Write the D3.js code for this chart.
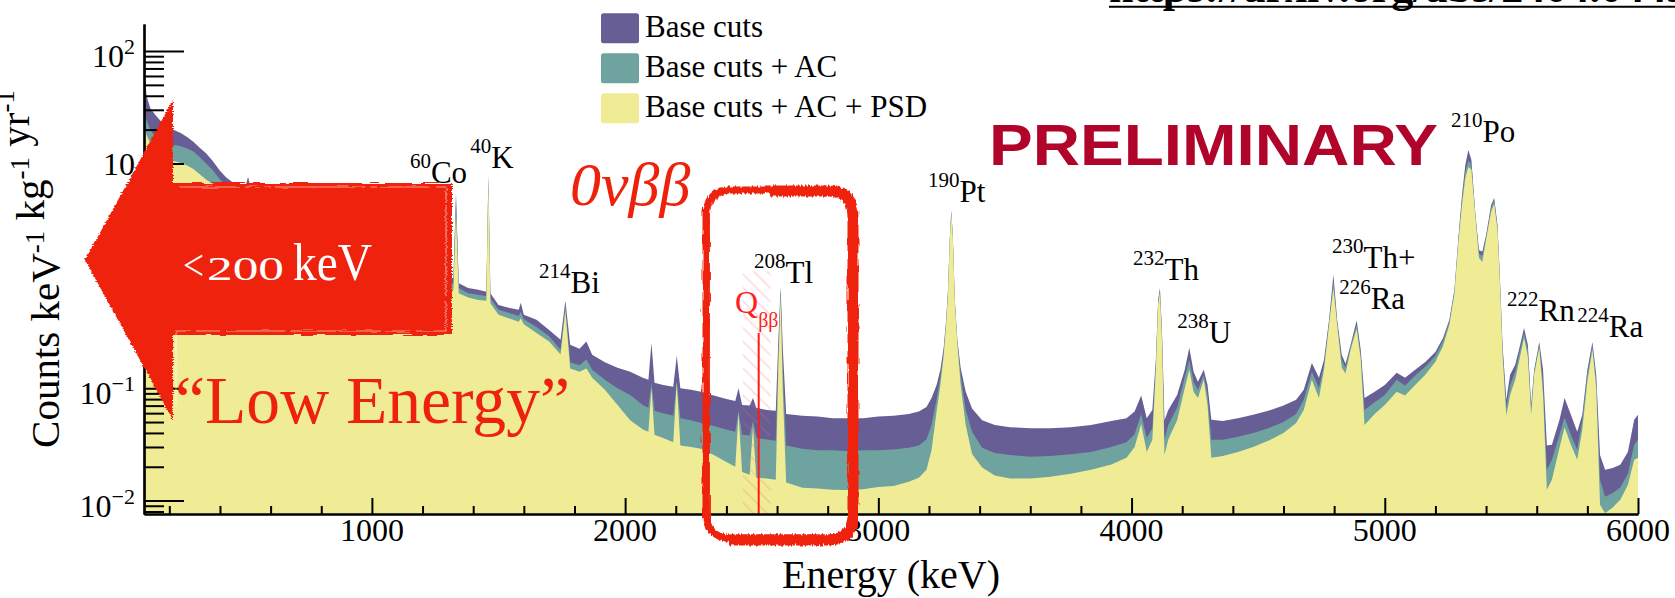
<!DOCTYPE html>
<html>
<head>
<meta charset="utf-8">
<script src="https://cdn.jsdelivr.net/npm/d3@7"></script>
<style>
  html, body { margin: 0; padding: 0; background: #ffffff; }
  svg { display: block; }
</style>
</head>
<body>
<svg id="chart" width="1675" height="598"></svg>
<script>
// ---- Spectrum knots: energy (keV) and rate (counts / keV / kg / yr) ----
const energy = [
  100,110,125,145,165,185,205,225,245,270,295,320,345,370,400,425,450,480,500,511,522,560,600,650,700,750,800,850,900,911,922,969,1000,1050,1100,1160,1173,1186,1250,1300,1322,1332,1343,1380,1420,1452,1460,1468,1500,1540,1580,1588,1600,1650,1700,1745,1764,1783,1820,1847,1870,1920,1970,2020,2070,2092,2104,2116,2150,2190,2204,2218,2260,2300,2350,2400,2435,2448,2462,2492,2505,2518,2560,2595,2606,2614,2623,2636,2700,2760,2820,2880,2940,3000,3060,3120,3160,3190,3210,3230,3245,3258,3268,3275,3282,3288,3294,3302,3312,3325,3345,3370,3410,3460,3520,3600,3680,3760,3840,3920,3980,4012,4038,4060,4082,4096,4105,4112,4120,4130,4145,4180,4210,4228,4245,4262,4285,4300,4315,4360,4420,4480,4540,4600,4650,4680,4712,4740,4760,4780,4797,4812,4830,4845,4865,4889,4905,4920,4960,5000,5047,5080,5120,5160,5200,5230,5255,5275,5290,5305,5318,5330,5342,5358,5372,5385,5400,5420,5432,5445,5455,5465,5480,5495,5515,5530,5550,5565,5578,5590,5610,5625,5640,5660,5690,5710,5735,5760,5780,5800,5820,5835,5850,5870,5900,5930,5960,5985,6000
];
const baseCuts = [
  75,40,31,27,24,22,20.5,19.5,18.7,17.2,15.6,13.8,12.3,10.6,8.6,7.5,6.8,6.3,6.1,7.6,5.9,5.5,5.1,4.6,4.1,3.7,3.3,3.0,2.7,3.6,2.6,2.9,2.2,1.95,1.7,1.5,4.6,1.4,1.2,1.0,0.95,5.47,0.86,0.78,0.75,0.72,7.8,0.7,0.55,0.52,0.5,0.575,0.45,0.406,0.33,0.27,0.6,0.243,0.224,0.26,0.198,0.17,0.152,0.14,0.124,0.119,0.254,0.112,0.107,0.103,0.194,0.1,0.097,0.093,0.086,0.08,0.077,0.1,0.071,0.07,0.082,0.067,0.064,0.063,0.3,0.8,0.22,0.059,0.057,0.056,0.054,0.054,0.054,0.056,0.057,0.059,0.062,0.068,0.082,0.107,0.146,0.229,0.406,0.75,2.09,3.8,2.3,0.61,0.27,0.152,0.093,0.066,0.052,0.047,0.045,0.044,0.044,0.045,0.047,0.051,0.054,0.062,0.086,0.054,0.064,0.179,0.61,0.78,0.33,0.052,0.064,0.087,0.146,0.229,0.14,0.114,0.146,0.107,0.0524,0.051,0.054,0.058,0.063,0.07,0.079,0.097,0.168,0.124,0.179,0.406,1.02,0.406,0.198,0.165,0.243,0.4,0.22,0.082,0.093,0.107,0.137,0.124,0.146,0.171,0.21,0.28,0.406,0.75,2.09,5.25,9.7,13.2,10.8,3.49,1.7,1.64,2.3,4.27,4.93,2.84,0.92,0.243,0.079,0.132,0.162,0.22,0.344,0.243,0.071,0.146,0.258,0.146,0.031,0.0314,0.0524,0.082,0.058,0.041,0.058,0.146,0.258,0.132,0.0255,0.0188,0.0195,0.0208,0.027,0.0524,0.058
];
const baseAC = [
  30,24,20,17,15.5,14.5,14,14.6,14.2,13.6,12.8,11.4,10.0,8.8,7.2,6.4,5.9,5.5,5.3,6.0,5.1,4.8,4.4,3.9,3.5,3.2,2.8,2.6,2.3,2.8,2.2,2.3,1.9,1.7,1.5,1.3,3.2,1.2,1.05,0.9,0.85,4.9,0.78,0.7,0.68,0.66,7.4,0.63,0.5,0.47,0.44,0.48,0.41,0.35,0.29,0.22,0.54,0.17,0.16,0.18,0.146,0.119,0.1,0.087,0.071,0.067,0.112,0.063,0.06,0.057,0.116,0.054,0.052,0.049,0.046,0.043,0.041,0.063,0.0385,0.038,0.051,0.036,0.035,0.034,0.22,0.73,0.14,0.031,0.029,0.028,0.028,0.0275,0.028,0.028,0.0285,0.0295,0.031,0.035,0.047,0.079,0.126,0.21,0.39,0.72,2.05,3.75,2.25,0.6,0.26,0.132,0.064,0.041,0.0295,0.0265,0.0255,0.0245,0.025,0.0259,0.027,0.030,0.033,0.039,0.059,0.036,0.044,0.165,0.58,0.75,0.3,0.035,0.047,0.067,0.126,0.179,0.114,0.097,0.132,0.087,0.0348,0.0348,0.037,0.040,0.044,0.05,0.059,0.079,0.14,0.1,0.162,0.38,0.89,0.38,0.179,0.152,0.235,0.366,0.2,0.064,0.075,0.087,0.119,0.105,0.13,0.155,0.194,0.265,0.39,0.72,2.0,4.9,8.4,10.6,9.7,3.4,1.58,1.5,2.2,4.0,4.74,2.7,0.88,0.22,0.067,0.107,0.14,0.198,0.31,0.22,0.064,0.14,0.243,0.11,0.0188,0.0231,0.0385,0.055,0.0385,0.0283,0.0524,0.132,0.239,0.119,0.0153,0.0108,0.0117,0.0131,0.0173,0.0314,0.0348
];
const basePSD = [
  22,18,15,13,11.5,10.8,10.5,10.4,10.1,9.6,8.9,8.0,7.2,6.6,5.7,5.2,4.9,4.6,4.4,4.8,4.2,3.9,3.6,3.2,2.9,2.6,2.3,2.1,1.9,2.2,1.8,1.8,1.55,1.4,1.25,1.1,2.4,1.0,0.9,0.78,0.75,3.6,0.7,0.64,0.61,0.6,7.1,0.57,0.45,0.42,0.39,0.42,0.37,0.31,0.26,0.2,0.49,0.15,0.14,0.15,0.124,0.097,0.071,0.052,0.043,0.041,0.1,0.0385,0.036,0.033,0.112,0.031,0.03,0.029,0.0255,0.022,0.02,0.06,0.018,0.017,0.046,0.016,0.0157,0.0153,0.18,0.66,0.09,0.0145,0.013,0.0128,0.0125,0.0124,0.0126,0.0132,0.0135,0.0147,0.016,0.0188,0.028,0.062,0.107,0.194,0.37,0.68,2.0,3.6,2.2,0.58,0.25,0.107,0.047,0.026,0.0197,0.0167,0.0157,0.0157,0.0163,0.0173,0.0188,0.021,0.024,0.03,0.048,0.027,0.0348,0.146,0.55,0.7,0.27,0.0255,0.035,0.052,0.1,0.146,0.093,0.082,0.119,0.071,0.024,0.025,0.027,0.030,0.034,0.040,0.049,0.064,0.119,0.082,0.146,0.366,0.78,0.366,0.152,0.135,0.22,0.338,0.18,0.047,0.059,0.071,0.093,0.086,0.107,0.132,0.172,0.238,0.366,0.69,1.9,4.27,7.4,9.3,8.77,3.28,1.45,1.33,2.09,3.71,4.37,2.57,0.83,0.198,0.057,0.087,0.119,0.172,0.28,0.19,0.058,0.132,0.229,0.087,0.0125,0.0153,0.0295,0.045,0.0314,0.0231,0.0427,0.115,0.22,0.1,0.0092,0.0077,0.0087,0.0102,0.0138,0.0231,0.024
];

const seriesNames = ["Base cuts", "Base cuts + AC", "Base cuts + AC + PSD"];
const seriesColors = ["#685e96", "#6ea3a0", "#f0ec96"];

const energyRange = [100, 6000];
const countRange = [0.0076, 174];
const xMajorTicks = [1000, 2000, 3000, 4000, 5000, 6000];
const yDecades = [-2, -1, 0, 1, 2];

// isotope annotations, anchored in (energy, rate) coordinates
const peakMass = ["60", "40", "214", "208", "190", "232", "238", "230", "226", "222", "224", "210"];
const peakName = ["Co", "K", "Bi", "Tl", "Pt", "Th", "U", "Th+", "Ra", "Rn", "Ra", "Po"];
const peakAnchorE = [1150, 1388, 1660, 2509, 3196, 4006, 4180, 4792, 4820, 5483, 5760, 5262];
const peakAnchorRate = [6.72, 9.14, 0.706, 0.866, 4.55, 0.921, 0.254, 1.178, 0.509, 0.398, 0.287, 15.56];

const qbb = 2527.5;           // keV
const roi = [2465, 2575];     // keV

// ---- layout ----
const W = 1675, H = 598;
const plot = { left: 144, right: 1638, top: 24, bottom: 514 };
const serif = "'Liberation Serif', 'Times New Roman', serif";
const sans = "'Liberation Sans', Arial, sans-serif";
const slideRed = "#ee220c";

const svg = d3.select("#chart");
const defs = svg.append("defs");

const x = d3.scaleLinear().domain(energyRange).range([plot.left, plot.right]);
const y = d3.scaleLog().domain(countRange).range([plot.bottom, plot.top]);

defs.append("clipPath").attr("id", "plotClip")
  .append("rect")
  .attr("x", plot.left).attr("y", plot.top)
  .attr("width", plot.right - plot.left).attr("height", plot.bottom - plot.top);

// brush-like roughness for the hand-drawn overlays
const brush = defs.append("filter").attr("id", "brush")
  .attr("x", "-10%").attr("y", "-10%").attr("width", "120%").attr("height", "120%");
brush.append("feTurbulence").attr("type", "fractalNoise")
  .attr("baseFrequency", "0.05 0.9").attr("numOctaves", 2).attr("seed", 7).attr("result", "noise");
brush.append("feDisplacementMap").attr("in", "SourceGraphic").attr("in2", "noise")
  .attr("scale", 4).attr("xChannelSelector", "R").attr("yChannelSelector", "G");

const brushV = defs.append("filter").attr("id", "brushV")
  .attr("x", "-10%").attr("y", "-10%").attr("width", "120%").attr("height", "120%");
brushV.append("feTurbulence").attr("type", "fractalNoise")
  .attr("baseFrequency", "0.6 0.06").attr("numOctaves", 2).attr("seed", 3).attr("result", "noise");
brushV.append("feDisplacementMap").attr("in", "SourceGraphic").attr("in2", "noise")
  .attr("scale", 5).attr("xChannelSelector", "R").attr("yChannelSelector", "G");

// diagonal hatch for the region of interest
const hatch = defs.append("pattern").attr("id", "roiHatch")
  .attr("patternUnits", "userSpaceOnUse").attr("width", 9.5).attr("height", 9.5)
  .attr("patternTransform", "rotate(45)");
hatch.append("line").attr("x1", 0).attr("y1", 1).attr("x2", 9.5).attr("y2", 1)
  .attr("stroke", "#ff5a5a").attr("stroke-width", 0.9).attr("stroke-opacity", 0.4);

// ---- spectra (overlaid, widest selection first) ----
const gSpec = svg.append("g").attr("clip-path", "url(#plotClip)");
[baseCuts, baseAC, basePSD].forEach((vals, i) => {
  const area = d3.area()
    .x((d, j) => x(energy[j]))
    .y0(plot.bottom)
    .y1(d => y(Math.max(d, countRange[0])))
    .curve(d3.curveLinear);
  gSpec.append("path").datum(vals).attr("d", area).attr("fill", seriesColors[i]);
});

// ---- region of interest and Q-value ----
svg.append("rect")
  .attr("x", x(roi[0])).attr("y", y(1.1))
  .attr("width", x(roi[1]) - x(roi[0])).attr("height", plot.bottom - y(1.1))
  .attr("fill", "url(#roiHatch)");
svg.append("line")
  .attr("x1", x(qbb)).attr("x2", x(qbb))
  .attr("y1", y(0.31)).attr("y2", plot.bottom)
  .attr("stroke", "#ff1a1a").attr("stroke-width", 2);
const qText = svg.append("text")
  .attr("x", x(2434)).attr("y", y(0.469))
  .attr("font-family", serif).attr("font-size", 32).attr("fill", "#ff2020");
qText.append("tspan").text("Q");
qText.append("tspan").attr("font-size", 20).attr("dy", 14).text("ββ");

// ---- axes ----
const axisColor = "#000";
const gx = svg.append("g").attr("transform", `translate(0,${plot.bottom})`);
const minorX = d3.range(200, 6001, 200).filter(v => v % 1000 !== 0 && v > energyRange[0]);
gx.call(d3.axisBottom(x).tickValues(minorX).tickSize(-8).tickSizeOuter(0).tickFormat(""));
gx.append("g").call(d3.axisBottom(x).tickValues(xMajorTicks).tickSize(-16).tickSizeOuter(0).tickFormat(""));
gx.selectAll("path.domain").attr("stroke", axisColor).attr("stroke-width", 2.2);
gx.selectAll(".tick line").attr("stroke", axisColor).attr("stroke-width", 2);

svg.append("g").selectAll("text").data(xMajorTicks).join("text")
  .attr("x", d => x(d)).attr("y", 541)
  .attr("text-anchor", "middle")
  .attr("font-family", serif).attr("font-size", 32).attr("fill", "#000")
  .text(d => d);

const gy = svg.append("g").attr("transform", `translate(${plot.left},0)`);
const minorY = [];
for (let e = -3; e <= 2; e++) for (let m = 2; m <= 9; m++) {
  const v = m * Math.pow(10, e);
  if (v >= countRange[0] && v <= countRange[1]) minorY.push(v);
}
gy.call(d3.axisLeft(y).tickValues(minorY).tickSize(-20).tickSizeOuter(0).tickFormat(""));
gy.append("g").call(d3.axisLeft(y).tickValues(yDecades.map(e => Math.pow(10, e))).tickSize(-40).tickSizeOuter(0).tickFormat(""));
gy.selectAll("path.domain").attr("stroke", axisColor).attr("stroke-width", 2.2);
gy.selectAll(".tick line").attr("stroke", axisColor).attr("stroke-width", 2);

yDecades.forEach(e => {
  const ty = y(Math.pow(10, e));
  const t = svg.append("text")
    .attr("text-anchor", "end")
    .attr("font-family", serif).attr("font-size", 32).attr("fill", "#000");
  if (e === 0 || e === 1) {
    t.attr("x", 135).attr("y", ty + 11.5).text(e === 0 ? "1" : "10");
  } else {
    t.attr("x", 135).attr("y", ty + 16);
    t.append("tspan").text("10");
    t.append("tspan").attr("font-size", 22).attr("dy", -13).text(e < 0 ? "\u2212" + (-e) : String(e));
  }
});

// axis titles
svg.append("text")
  .attr("x", (plot.left + plot.right) / 2).attr("y", 588)
  .attr("text-anchor", "middle")
  .attr("font-family", serif).attr("font-size", 40).attr("fill", "#000")
  .text("Energy (keV)");

const yTitle = svg.append("text")
  .attr("transform", `translate(59,${(plot.top + plot.bottom) / 2}) rotate(-90)`)
  .attr("text-anchor", "middle")
  .attr("font-family", serif).attr("font-size", 41).attr("fill", "#000");
[["Counts keV", "-1"], [" kg", "-1"], [" yr", "-1"]].forEach(([base, sup]) => {
  yTitle.append("tspan").attr("dy", 0).text(base);
  yTitle.append("tspan").attr("font-size", 27).attr("dy", -15).text(sup);
  yTitle.append("tspan").attr("font-size", 41).attr("dy", 15).text("");
});

// ---- isotope labels ----
peakName.forEach((name, i) => {
  const t = svg.append("text")
    .attr("x", x(peakAnchorE[i])).attr("y", y(peakAnchorRate[i]))
    .attr("font-family", serif).attr("fill", "#000");
  t.append("tspan").attr("font-size", 21).attr("dy", -15).text(peakMass[i]);
  t.append("tspan").attr("font-size", 31).attr("dy", 15).text(name);
});

// ---- legend ----
const legend = svg.append("g");
seriesNames.forEach((name, i) => {
  legend.append("rect")
    .attr("x", 601).attr("y", 13.3 + i * 40)
    .attr("width", 38).attr("height", 30).attr("rx", 2.5)
    .attr("fill", seriesColors[i]);
  legend.append("text")
    .attr("x", 645).attr("y", 37 + i * 40)
    .attr("font-family", serif).attr("font-size", 31).attr("fill", "#000")
    .text(name);
});

// ---- slide overlays ----
svg.append("text")
  .attr("x", 989).attr("y", 165)
  .attr("font-family", sans).attr("font-weight", "bold").attr("font-size", 57)
  .attr("textLength", 449).attr("lengthAdjust", "spacingAndGlyphs")
  .attr("fill", "#b0042a")
  .text("PRELIMINARY");

svg.append("text")
  .attr("x", 1109).attr("y", 2)
  .attr("font-family", serif).attr("font-weight", "bold").attr("font-size", 44).attr("fill", "#000")
  .text("https://arxiv.org/abs/2404.04453");
svg.append("line").attr("x1", 1109).attr("x2", W).attr("y1", 6.8).attr("y2", 6.8)
  .attr("stroke", "#000").attr("stroke-width", 2);

svg.append("text")
  .attr("x", 570).attr("y", 205)
  .attr("font-family", serif).attr("font-style", "italic").attr("font-size", 62)
  .attr("fill", slideRed)
  .text("0νββ");

// hand-drawn box around the region of interest
const box = svg.append("g").attr("filter", "url(#brushV)").attr("fill", "none").attr("stroke", slideRed);
box.append("rect").attr("x", 706).attr("y", 190).attr("width", 146).attr("height", 348).attr("rx", 22)
  .attr("stroke-width", 7);
box.append("rect").attr("x", 708).attr("y", 191).attr("width", 146).attr("height", 349).attr("rx", 24)
  .attr("stroke-width", 4).attr("stroke-opacity", 0.85);
box.append("path")
  .attr("d", "M770,191 L828,191 Q853,191 853,216 L853,515 Q853,540 828,540 L730,540")
  .attr("stroke-width", 11);

// big arrow pointing to low energies
const arrow = svg.append("g").attr("filter", "url(#brush)");
arrow.append("polygon")
  .attr("points", "85,260 173,100 173,183 452,183 452,335 173,335 173,420")
  .attr("fill", slideRed);
arrow.append("path")
  .attr("d", "M180,187 L446,187 L446,331 L176,331 L176,412")
  .attr("fill", "none").attr("stroke", "#ffffff").attr("stroke-width", 1.2)
  .attr("stroke-opacity", 0.55).attr("stroke-dasharray", "60 6 25 4 90 5");

const lowTxt = { fill: "#ffffff", family: serif };
svg.append("text").attr("x", 183).attr("y", 280)
  .attr("font-family", lowTxt.family).attr("font-size", 44).attr("fill", lowTxt.fill)
  .attr("textLength", 21).attr("lengthAdjust", "spacingAndGlyphs").text("<");
svg.append("text").attr("x", 207).attr("y", 280)
  .attr("font-family", lowTxt.family).attr("font-size", 33).attr("fill", lowTxt.fill)
  .attr("textLength", 77).attr("lengthAdjust", "spacingAndGlyphs").text("200");
svg.append("text").attr("x", 293).attr("y", 280)
  .attr("font-family", lowTxt.family).attr("font-size", 52).attr("fill", lowTxt.fill)
  .attr("textLength", 79).attr("lengthAdjust", "spacingAndGlyphs").text("keV");

svg.append("text")
  .attr("x", 175).attr("y", 423)
  .attr("font-family", serif).attr("font-size", 68).attr("fill", slideRed)
  .attr("textLength", 395).attr("lengthAdjust", "spacingAndGlyphs")
  .text("\u201CLow Energy\u201D");
</script>
</body>
</html>
